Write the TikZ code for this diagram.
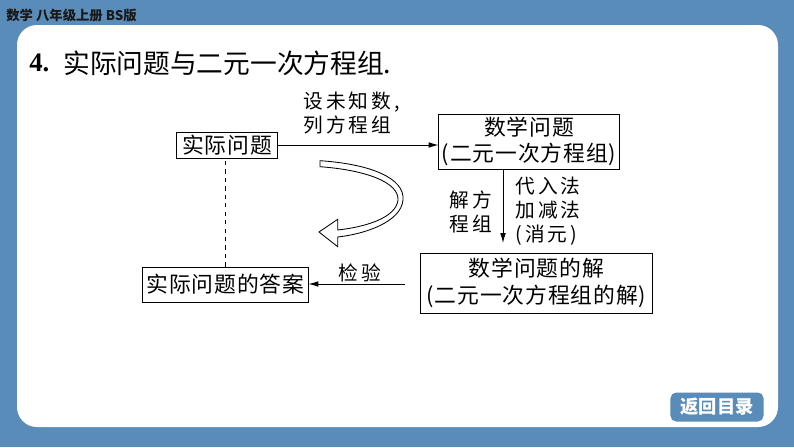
\documentclass[tikz,border=0pt]{standalone}
\usepackage{fontspec}
\setmainfont{Liberation Serif}
\newfontfamily\cjk[LetterSpace=4]{Noto Sans CJK SC}
\newfontfamily\cjklbl[LetterSpace=16]{Noto Sans CJK SC}
\newfontfamily\cjkplain{Noto Sans CJK SC}
\usetikzlibrary{arrows.meta}
\definecolor{slideblue}{RGB}{90,140,185}

\begin{document}
\begin{tikzpicture}
				[x=0.025cm, y=-0.025cm,
				box/.style = {draw, line width=0.7pt, inner sep=0pt, align=center,
				font=\cjk\fontsize{15.5}{19}\selectfont},
				lbl/.style = {inner sep=0pt, align=left,
				font=\cjklbl\fontsize{14}{17}\selectfont},
				arr/.style = {-{Latex[length=7pt,width=4pt]}, line width=0.6pt}]
				% slide frame
				\fill[slideblue] (0,0) rectangle (794,447);
				\useasboundingbox (0,0) rectangle (794,447);
				\fill[white, rounded corners=0.5cm] (17,25) rectangle (778,427);
				\node[anchor=west, inner sep=0pt, text=black!90,
				font=\cjkplain\bfseries\fontsize{9.5}{10}\selectfont] (hdr) at (6,15) {数学 八年级上册 BS版};
				\node[fill=slideblue, rounded corners=4pt, minimum width=2.325cm, minimum height=0.725cm,
				inner sep=0pt, text=white, font=\cjkplain\bfseries\fontsize{13}{13}\selectfont] (back) at (717,407) {返回目录};
				% title
				\node[anchor=west, inner sep=0pt, font=\bfseries\fontsize{19}{22}\selectfont] (num) at (29,63) {4.};
				\node[anchor=west, inner sep=0pt, font=\cjkplain\fontsize{19}{22}\selectfont] (title) at (63,63) {实际问题与二元一次方程组.};
				% boxes
				\node[box, minimum width=2.5cm, minimum height=0.65cm] (sj) at (227,145) {实际问题};
				\node[box, minimum width=4.5cm, minimum height=1.375cm] (mq) at (529,141.5) {数学问题\\(二元一次方程组)};
				\node[box, minimum width=4.125cm, minimum height=0.875cm] (da) at (225.5,284.5) {实际问题的答案};
				\node[box, minimum width=5.775cm, minimum height=1.5cm] (mj) at (536.5,283) {数学问题的解\\(二元一次方程组的解)};
				% labels
				\node[lbl, anchor=west] (set) at (303,113.5) {设未知数,\\列方程组};
				\node[lbl] (solve) at (471,211.5) {解方\\程组};
				\node[lbl, anchor=west] (ways) at (515,211) {代入法\\加减法\\(消元)};
				\node[lbl] (check) at (360,273) {检验};
				% connectors
				\coordinate (vend) at (503,243);
				\coordinate (hstart) at (405,284);
				\draw[arr] (sj.east) -- (sj.east -| mq.west);
				\draw[arr] (vend |- mq.south) -- (vend);
				\draw[arr] (hstart) -- (hstart -| da.east);
				\draw[dashed, line width=0.6pt] (da.north) -- (da.north |- sj.south);
				% hollow curved arrow
				\draw[line width=0.6pt, fill=white] (320,160.7) .. controls (370,164) and (405,178) .. (403,200)
				.. controls (401,222) and (365,234) .. (337.7,237) -- (337.7,246.7) -- (319,232)
				-- (337.7,219.3) -- (337.7,230) .. controls (365,227) and (396,218) .. (398,200)
				.. controls (399,182) and (365,170) .. (320,166.7) -- cycle;
			\end{tikzpicture}
\end{document}
